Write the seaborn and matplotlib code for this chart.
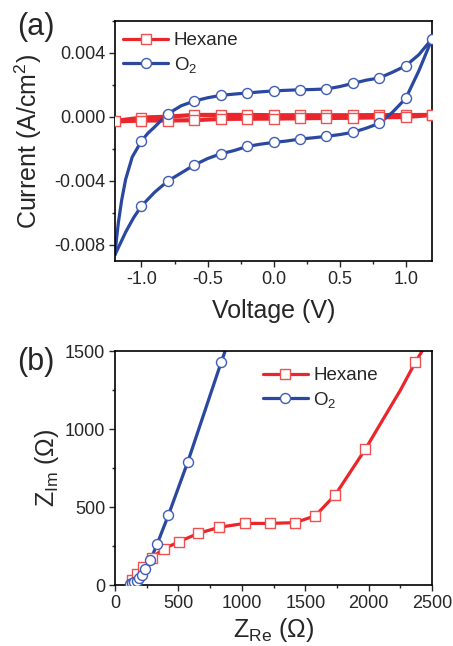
import numpy as np
import pandas as pd
import matplotlib
matplotlib.use("Agg")
import matplotlib.pyplot as plt
from matplotlib.lines import Line2D
from matplotlib.ticker import MultipleLocator, FuncFormatter
import seaborn as sns

# ---- data ----
# (a) cyclic voltammetry, O2: two branches, markers every 0.2 V
o2_up_v = [-1.2, -1.19, -1.175, -1.15, -1.12, -1.07, -1.0, -0.95, -0.9, -0.85, -0.8, -0.7, -0.6,
           -0.5, -0.4, -0.3, -0.2, -0.1, 0.0, 0.1, 0.2, 0.3, 0.4, 0.5, 0.6, 0.7, 0.8, 0.9, 1.0,
           1.1, 1.2]
o2_up_i = [-0.0086, -0.0077, -0.0066, -0.0052, -0.0039, -0.0025, -0.0015, -0.001, -0.00062,
           -0.0002, 0.0002, 0.0007, 0.0010, 0.0012, 0.00135, 0.00143, 0.0015, 0.00157, 0.00163,
           0.00167, 0.0017, 0.00172, 0.00175, 0.0019, 0.0021, 0.0023, 0.00244, 0.0028, 0.0032,
           0.0039, 0.0049]
o2_lo_v = [1.2, 1.15, 1.1, 1.0, 0.9, 0.8, 0.7, 0.6, 0.5, 0.4, 0.3, 0.2, 0.1, 0.0, -0.1, -0.2,
           -0.3, -0.4, -0.5, -0.6, -0.7, -0.8, -0.9, -1.0, -1.06, -1.12, -1.2]
o2_lo_i = [0.0049, 0.0039, 0.0029, 0.00116, 0.0003, -0.0004, -0.0007, -0.00096, -0.0011, -0.00121,
           -0.0013, -0.00138, -0.0015, -0.00159, -0.0017, -0.00184, -0.0021, -0.0023, -0.0026,
           -0.0030, -0.0035, -0.0040, -0.0047, -0.00556, -0.0063, -0.0072, -0.0086]
o2_mark_v = [-1.0, -0.8, -0.6, -0.4, -0.2, 0.0, 0.2, 0.4, 0.6, 0.8, 1.0, 1.2,
             1.0, 0.8, 0.6, 0.4, 0.2, 0.0, -0.2, -0.4, -0.6, -0.8, -1.0]
o2_mark_i = [-0.0015, 0.0002, 0.0010, 0.00135, 0.0015, 0.00163, 0.0017, 0.00175, 0.0021, 0.00244,
             0.0032, 0.0049, 0.00116, -0.0004, -0.00096, -0.00121, -0.00138, -0.00159, -0.00184,
             -0.0023, -0.0030, -0.0040, -0.00556]

# (a) hexane: forward and reverse scans, nearly flat
hex_v = [-1.2, -1.0, -0.8, -0.6, -0.4, -0.2, 0.0, 0.2, 0.4, 0.6, 0.8, 1.0, 1.2]
hex_up_i = [-0.00025, -0.00004, 0.00002, 0.00013, 0.00013, 0.00013, 0.00011, 0.00011, 0.00011,
            0.00011, 0.00012, 0.00012, 0.00013]
hex_lo_i = [-0.00028, -0.00022, -0.00022, -0.0002, -0.00012, -0.00011, -0.0001, -0.00008,
            -0.00006, -0.00005, -0.00002, 0.0, 0.00013]

# (b) Nyquist plot
o2_zre = [118, 134, 153, 171, 192, 210, 237, 279, 332, 421, 574, 837, 868]
o2_zim = [4, 11, 17, 28, 43, 64, 100, 160, 263, 449, 791, 1429, 1500]
hex_zre = [132, 171, 224, 289, 382, 505, 655, 821, 1021, 1218, 1421, 1579, 1737, 1974, 2250, 2368, 2421]
hex_zim = [32, 71, 118, 175, 231, 278, 331, 370, 395, 395, 400, 444, 579, 872, 1250, 1429, 1500]
o2_marks = list(range(12))
hex_marks = [i for i in range(16) if i != 14]

RED = "#E8262B"
BLUE = "#2A48A0"
RED_EDGE = "#F05050"
BLUE_EDGE = "#3F5DB8"

sns.set_style("ticks")
plt.rcParams["font.family"] = ["Liberation Sans", "DejaVu Sans"]
plt.rcParams["mathtext.fontset"] = "custom"
plt.rcParams["mathtext.rm"] = "Liberation Sans"
plt.rcParams["mathtext.it"] = "Liberation Sans:italic"
plt.rcParams["axes.unicode_minus"] = False

fig = plt.figure(figsize=(4.53, 6.46), dpi=100)
ax1 = fig.add_axes([0.254, 0.596, 0.700, 0.3715])
ax2 = fig.add_axes([0.254, 0.0944, 0.700, 0.3622])

LW = 2.3


def draw(ax, x, y, color, lw=LW):
    df = pd.DataFrame({"x": x, "y": y})
    sns.lineplot(data=df, x="x", y="y", sort=False, estimator=None, color=color,
                 lw=lw, ax=ax, zorder=2)


def marks(ax, x, y, edge, m):
    df = pd.DataFrame({"x": x, "y": y})
    sns.scatterplot(data=df, x="x", y="y", marker=m, s=52, facecolor="white",
                    edgecolor=edge, linewidth=1.0, ax=ax, zorder=3)


# ---- panel (a) ----
draw(ax1, hex_v, hex_up_i, RED, lw=3.0)
draw(ax1, hex_v, hex_lo_i, RED, lw=3.0)
marks(ax1, hex_v + hex_v[1:], hex_up_i + hex_lo_i[1:], RED_EDGE, "s")
draw(ax1, o2_up_v, o2_up_i, BLUE)
draw(ax1, o2_lo_v, o2_lo_i, BLUE)
marks(ax1, o2_mark_v, o2_mark_i, BLUE_EDGE, "o")

ax1.set_xlim(-1.2, 1.2)
ax1.set_ylim(-0.009, 0.006)
ax1.xaxis.set_major_locator(MultipleLocator(0.5))
ax1.xaxis.set_minor_locator(MultipleLocator(0.25))
ax1.yaxis.set_major_locator(MultipleLocator(0.004))
ax1.yaxis.set_minor_locator(MultipleLocator(0.002))
ax1.xaxis.set_major_formatter(FuncFormatter(lambda v, p: f"{v:.1f}"))
ax1.yaxis.set_major_formatter(FuncFormatter(lambda v, p: f"{v:.3f}"))
ax1.set_xlabel("Voltage (V)", fontsize=18, labelpad=8)
ax1.set_ylabel("Current (A/cm$^2$)", fontsize=18, labelpad=7)

# ---- panel (b) ----
draw(ax2, hex_zre, hex_zim, RED)
marks(ax2, [hex_zre[i] for i in hex_marks], [hex_zim[i] for i in hex_marks], RED_EDGE, "s")
draw(ax2, o2_zre, o2_zim, BLUE)
marks(ax2, [o2_zre[i] for i in o2_marks], [o2_zim[i] for i in o2_marks], BLUE_EDGE, "o")

ax2.set_xlim(0, 2500)
ax2.set_ylim(0, 1500)
ax2.xaxis.set_major_locator(MultipleLocator(500))
ax2.xaxis.set_minor_locator(MultipleLocator(250))
ax2.yaxis.set_major_locator(MultipleLocator(500))
ax2.yaxis.set_minor_locator(MultipleLocator(250))
ax2.set_xlabel("Z$_{\\rm Re}$ (Ω)", fontsize=18, labelpad=3)
ax2.set_ylabel("Z$_{\\rm Im}$ (Ω)", fontsize=18, labelpad=3)

for ax in (ax1, ax2):
    for s in ax.spines.values():
        s.set_visible(True)
        s.set_linewidth(1.2)
        s.set_color("black")
    ax.tick_params(which="major", direction="out", length=4, width=1.0, labelsize=13,
                   top=False, right=False, pad=3)
    ax.tick_params(which="minor", direction="out", length=2.5, width=1.0, top=False, right=False)

handles = [
    Line2D([], [], color=RED, lw=LW, marker="s", markersize=7.2, markerfacecolor="white",
           markeredgecolor=RED_EDGE, markeredgewidth=1.0),
    Line2D([], [], color=BLUE, lw=LW, marker="o", markersize=7.2, markerfacecolor="white",
           markeredgecolor=BLUE_EDGE, markeredgewidth=1.0),
]
labels = ["Hexane", "O$_2$"]
ax1.legend(handles, labels, loc="upper left", bbox_to_anchor=(-0.01, 1.0), frameon=False,
           fontsize=13.5, handlelength=2.4, handletextpad=0.3, labelspacing=0.3,
           borderaxespad=0.2)
ax2.legend(handles, labels, loc="upper left", bbox_to_anchor=(0.43, 0.98), frameon=False,
           fontsize=13.5, handlelength=2.4, handletextpad=0.3, labelspacing=0.3,
           borderaxespad=0.2)

fig.text(0.08, 1 - 27 / 646, "(a)", fontsize=22, ha="center", va="center")
fig.text(0.08, 1 - 362 / 646, "(b)", fontsize=22, ha="center", va="center")

fig.savefig("out.png", dpi=100)
